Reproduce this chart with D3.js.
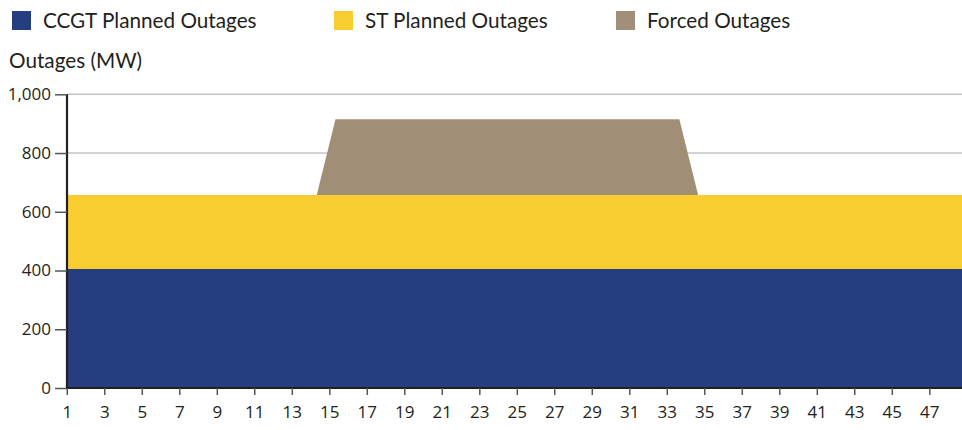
<!DOCTYPE html>
<html>
    <head>
        <meta charset="utf-8">
        <script src="https://d3js.org/d3.v7.min.js"></script>
        <title>Outages</title>
        <style>
            body { margin: 0; background-color: #fff }
            .legend text, .title { font-family: 'Lato', sans-serif; font-size: 20.7px; fill: #231f20 }
        </style>
    </head>
    <body>
        <script>
            /* data */
            const seriesNames = ['CCGT Planned Outages', 'ST Planned Outages', 'Forced Outages']
            const seriesColors = ['#243e80', '#f9cd30', '#a08f76']
            const periods = [1, 14.33, 15.33, 33.67, 34.67, 49]
            const ccgt = [405, 405, 405, 405, 405, 405]
            const st = [252, 252, 252, 252, 252, 252]
            const forced = [0, 0, 258, 258, 0, 0]
            const xTicks = d3.range(1, 48, 2)
            const yTicks = [0, 200, 400, 600, 800, 1000]

            /* canvas setup */
            const width = 962
            const height = 430

            const svg = d3.select('body')
                .append('svg')
                    .attr('width', width)
                    .attr('height', height)

            const xScale = d3.scaleLinear().domain([1, 49]).range([66.8, 966.8])
            const yScale = d3.scaleLinear().domain([0, 1000]).range([388, 94.3])

            const rows = periods.map((p, i) => ({ p: p, a: ccgt[i], b: st[i], c: forced[i] }))
            const stacked = d3.stack().keys(['a', 'b', 'c'])(rows)

            /* grid */
            svg.append('g')
                .selectAll('line')
                .data(yTicks.filter(d => d > 0))
                .join('line')
                    .attr('x1', 67).attr('x2', width)
                    .attr('y1', d => yScale(d)).attr('y2', d => yScale(d))
                    .attr('stroke', '#c4c4c4')
                    .attr('stroke-width', 1.5)

            /* areas */
            const area = d3.area()
                .x(d => xScale(d.data.p))
                .y0(d => yScale(d[0]))
                .y1(d => yScale(d[1]))

            svg.append('g')
                .selectAll('path')
                .data(stacked)
                .join('path')
                    .attr('d', area)
                    .attr('fill', (d, i) => seriesColors[i])

            /* axes */
            const yAxis = svg.append('g')
                .attr('transform', 'translate(67,0)')
                .call(d3.axisLeft(yScale).tickValues(yTicks).tickFormat(d3.format(',')).tickSize(12).tickPadding(4))
                .attr('font-family', 'Open Sans')
                .attr('font-size', 17)
            yAxis.select('.domain').attr('stroke', '#231f20').attr('stroke-width', 2.2).attr('d', 'M0,94.3V389')
            yAxis.selectAll('.tick line').attr('stroke', '#555').attr('stroke-width', 1.5)
            yAxis.selectAll('.tick text').attr('fill', '#231f20')

            const xAxis = svg.append('g')
                .attr('transform', 'translate(0,388)')
                .call(d3.axisBottom(xScale).tickValues(xTicks).tickSize(7).tickPadding(11))
                .attr('font-family', 'Open Sans')
                .attr('font-size', 17)
            xAxis.select('.domain').attr('stroke', '#231f20').attr('stroke-width', 2.2).attr('d', 'M66,0H' + width)
            xAxis.selectAll('.tick line').attr('stroke', '#555').attr('stroke-width', 1.5)
            xAxis.selectAll('.tick text').attr('fill', '#231f20')

            /* title */
            svg.append('text')
                .attr('class', 'title')
                .attr('x', 9).attr('y', 68)
                .text('Outages (MW)')

            /* legend */
            const legendX = [12, 334, 616]
            const legend = svg.append('g')
                .attr('class', 'legend')
                .selectAll('g')
                .data(seriesNames)
                .join('g')
                    .attr('transform', (d, i) => `translate(${legendX[i]},11)`)
            legend.append('rect')
                .attr('width', 19).attr('height', 19)
                .attr('fill', (d, i) => seriesColors[i])
            legend.append('text')
                .attr('x', 31).attr('y', 17)
                .text(d => d)
        </script>
    </body>
</html>
